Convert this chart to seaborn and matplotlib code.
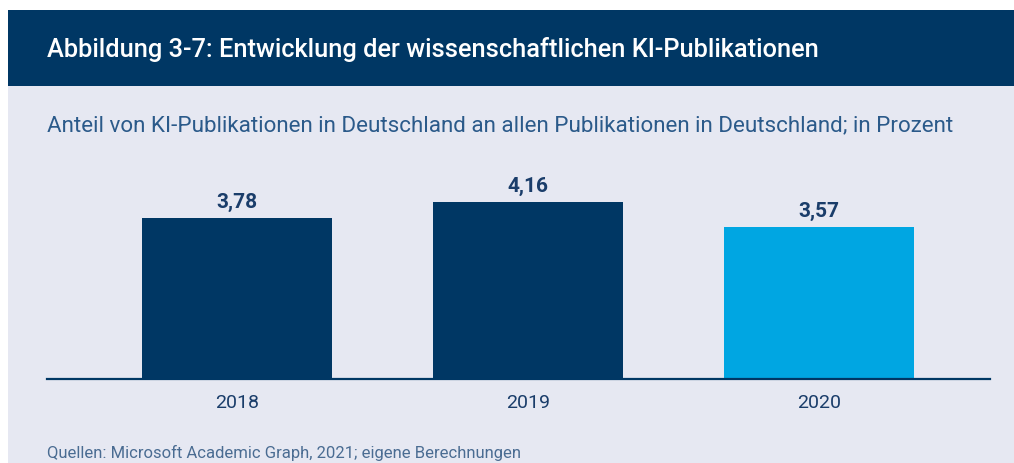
import matplotlib
matplotlib.use("Agg")
import matplotlib.pyplot as plt
import seaborn as sns
from matplotlib.patches import Rectangle

years = ["2018", "2019", "2020"]
shares = [3.78, 4.16, 3.57]
bar_colors = ["#003764", "#003764", "#00a6e2"]

title = "Abbildung 3-7: Entwicklung der wissenschaftlichen KI-Publikationen"
subtitle = "Anteil von KI-Publikationen in Deutschland an allen Publikationen in Deutschland; in Prozent"
source = "Quellen: Microsoft Academic Graph, 2021; eigene Berechnungen"

navy = "#003764"
bg = "#e6e8f2"

sns.set_theme(style="white")
plt.rcParams["font.family"] = ["Roboto", "DejaVu Sans"]

W, H = 1014, 464
fig = plt.figure(figsize=(W / 100, H / 100), dpi=100, facecolor="white")

# panel background and header band (pixel positions converted to figure fractions)
fig.patches.append(Rectangle((8 / W, 0), (W - 8) / W, (H - 11) / H,
                             transform=fig.transFigure, facecolor=bg, edgecolor="none", zorder=-2))
fig.patches.append(Rectangle((8 / W, (H - 87) / H), (W - 8) / W, 76 / H,
                             transform=fig.transFigure, facecolor=navy, edgecolor="none", zorder=-1))

fig.text(47 / W, (H - 49) / H, title, color="white", fontsize=18.3, fontweight="medium",
         va="center", ha="left")
fig.text(47 / W, (H - 126) / H, subtitle, color="#2b5a8a", fontsize=16.1,
         va="center", ha="left")
fig.text(47 / W, (H - 453) / H, source, color="#4a6c92", fontsize=12,
         va="center", ha="left")

ax = fig.add_axes([47 / W, 84 / H, 943 / W, 240 / H])
ax.set_facecolor("none")
sns.barplot(x=years, y=shares, hue=years, palette=bar_colors, width=0.653,
            saturation=1, legend=False, linewidth=0, ax=ax)

ax.set_xlim(-0.653, 2.588)
ax.set_ylim(0, 240 / 42.58)

for i, v in enumerate(shares):
    ax.annotate(f"{v:.2f}".replace(".", ","), (i, v), xytext=(0, 5),
                textcoords="offset points", ha="center", va="bottom",
                fontsize=15, fontweight="bold", color="#1a3d6a")

for s in ["top", "right", "left"]:
    ax.spines[s].set_visible(False)
ax.spines["bottom"].set_color(navy)
ax.spines["bottom"].set_linewidth(1.6)
ax.set_yticks([])
ax.tick_params(axis="x", length=0, pad=10, labelsize=14, labelcolor="#1a3d6a")
ax.set_xlabel("")
ax.set_ylabel("")

fig.savefig("out.png", dpi=100, facecolor=fig.get_facecolor())
